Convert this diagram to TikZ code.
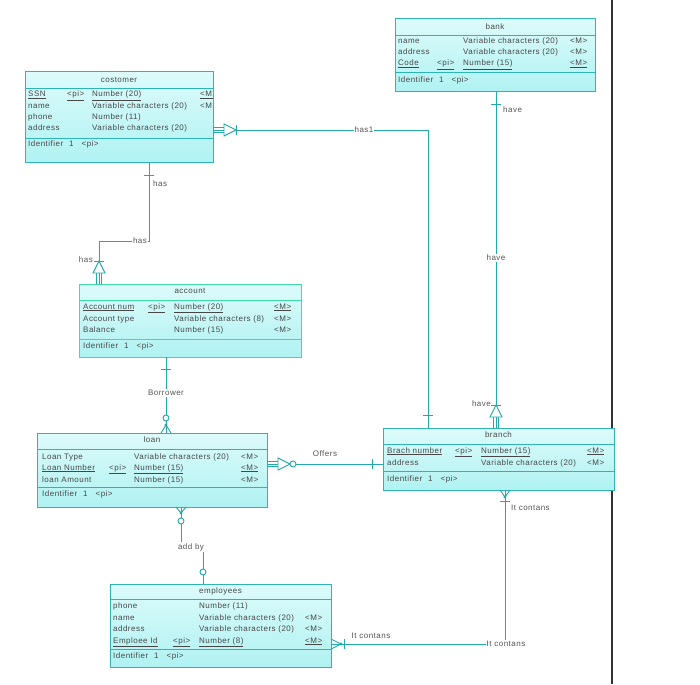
\documentclass[tikz,border=0pt]{standalone}
\usepackage{fontspec}
\setmainfont{Liberation Sans}[LetterSpace=6]
\usetikzlibrary{calc}

\definecolor{edge}{HTML}{30B3B3}
\definecolor{acctedge}{HTML}{3FDDA5}
\definecolor{link}{HTML}{22A9A9}
\definecolor{fillA}{HTML}{DDFBFB}
\definecolor{fillB}{HTML}{B0F2F2}
\definecolor{ink}{HTML}{474747}
\definecolor{lblink}{HTML}{555555}

\tikzset{
  entity/.style={draw=edge, line width=1pt, top color=fillA, bottom color=fillB,
    anchor=north west, inner sep=0pt, outer sep=0pt},
  sepline/.style={draw=edge, line width=1pt},
  attr/.style={anchor=west, inner sep=0pt, text=ink, text height=6pt, text depth=2pt,
    font=\fontsize{8}{9}\selectfont},
  ttl/.style={anchor=center, inner sep=0pt, text=ink, font=\fontsize{8}{9}\selectfont},
  conn/.style={draw=link, line width=0.9pt},
  lbl/.style={inner sep=1pt, text=lblink, font=\fontsize{8}{9}\selectfont},
  % end symbols, drawn along the local x axis, pointing away from the entity
  pics/inh/.style={code={
     \draw[conn] (0,-2.3)--(11,-2.3) (0,2.3)--(11,2.3);
     \draw[conn, fill=white] (11,-6)--(11,6)--(23,0)--cycle;}},
  pics/bar/.style={code={\draw[conn] (#1,-5)--(#1,5);}},
  pics/crow/.style={code={\draw[conn] (0,-5)--(#1,0)--(0,5); \fill[link] (#1,0) circle (1.7);}},
  pics/ring/.style={code={\draw[conn, fill=white] (#1,0) circle (3);}},
}

% column positions of the current table
\newcommand\colsat[4]{\def\colA{#1}\def\colB{#2}\def\colC{#3}\def\colD{#4}}
% plain attribute row: id, y, name, key, type, mandatory
\newcommand\erow[6]{%
  \node[attr] (#1-a) at (\colA,#2) {#3};
  \if\relax\detokenize{#4}\relax\else\node[attr] (#1-b) at (\colB,#2) {#4};\fi
  \node[attr] (#1-c) at (\colC,#2) {#5};
  \if\relax\detokenize{#6}\relax\else\node[attr] (#1-d) at (\colD,#2) {#6};\fi}
% primary identifier row (underlined)
\newcommand\krow[6]{%
  \node[attr] (#1-a) at (\colA,#2) {\underline{#3}};
  \node[attr] (#1-b) at (\colB,#2) {\underline{#4}};
  \node[attr] (#1-c) at (\colC,#2) {\underline{#5}};
  \node[attr] (#1-d) at (\colD,#2) {\underline{#6}};}
\newcommand\identrow[3]{\node[attr] (#1) at (#2,#3) {Identifier\hspace{6pt}1\hspace{8pt}<pi>};}

\begin{document}
\begin{tikzpicture}[x=1pt, y=-1pt]
\useasboundingbox (0,0) rectangle (700,684);
\fill[white] (0,0) rectangle (700,684);

% page edge
\draw[black!80, line width=1.3pt] (612,0) -- (612,684);

% ---------- costomer ----------
\node[entity, minimum width=188, minimum height=91] (cust) at (25,72) {};
\draw[sepline] (cust.west |- 0,89) -- (cust.east |- 0,89);
\draw[sepline] (cust.west |- 0,139) -- (cust.east |- 0,139);
\begin{scope}
\clip (cust.north west) rectangle (cust.south east);
\node[ttl] (cust-t) at (cust.north |- 0,80) {costomer};
\colsat{28}{67}{92}{200}
\krow{cust-r1}{95}{SSN}{<pi>}{Number (20)}{<M>}
\erow{cust-r2}{107}{name}{}{Variable characters (20)}{<M>}
\erow{cust-r3}{118}{phone}{}{Number (11)}{}
\erow{cust-r4}{129}{address}{}{Variable characters (20)}{}
\identrow{cust-id}{28}{145}
\end{scope}
\draw[edge, line width=1pt] (cust.north east) -- (cust.south east);

% ---------- bank ----------
\node[entity, minimum width=200, minimum height=73] (bank) at (395,19) {};
\draw[sepline] (bank.west |- 0,36) -- (bank.east |- 0,36);
\draw[sepline] (bank.west |- 0,73) -- (bank.east |- 0,73);
\node[ttl] (bank-t) at (bank.north |- 0,27) {bank};
\colsat{398}{437}{463}{570}
\erow{bank-r1}{42}{name}{}{Variable characters (20)}{<M>}
\erow{bank-r2}{53}{address}{}{Variable characters (20)}{<M>}
\krow{bank-r3}{64}{Code}{<pi>}{Number (15)}{<M>}
\identrow{bank-id}{398}{81}

% ---------- account ----------
\node[entity, draw=acctedge, minimum width=222, minimum height=73] (acct) at (79,284) {};
\draw[sepline, draw=acctedge] (acct.west |- 0,300) -- (acct.east |- 0,300);
\draw[sepline, draw=acctedge] (acct.west |- 0,339) -- (acct.east |- 0,339);
\node[ttl] (acct-t) at (acct.north |- 0,291) {account};
\colsat{83}{148}{174}{274}
\krow{acct-r1}{307}{Account num}{<pi>}{Number (20)}{<M>}
\erow{acct-r2}{319}{Account type}{}{Variable characters (8)}{<M>}
\erow{acct-r3}{330}{Balance}{}{Number (15)}{<M>}
\identrow{acct-id}{83}{346}

% ---------- loan ----------
\node[entity, minimum width=230, minimum height=74] (loan) at (37,433) {};
\draw[sepline] (loan.west |- 0,449) -- (loan.east |- 0,449);
\draw[sepline] (loan.west |- 0,487) -- (loan.east |- 0,487);
\node[ttl] (loan-t) at (loan.north |- 0,440) {loan};
\colsat{42}{109}{134}{241}
\erow{loan-r1}{457}{Loan Type}{}{Variable characters (20)}{<M>}
\krow{loan-r2}{468}{Loan Number}{<pi>}{Number (15)}{<M>}
\erow{loan-r3}{480}{loan Amount}{}{Number (15)}{<M>}
\identrow{loan-id}{42}{494}

% ---------- branch ----------
\node[entity, minimum width=231, minimum height=62] (branch) at (383,428) {};
\draw[sepline] (branch.west |- 0,444) -- (branch.east |- 0,444);
\draw[sepline] (branch.west |- 0,471) -- (branch.east |- 0,471);
\node[ttl] (branch-t) at (branch.north |- 0,435) {branch};
\colsat{387}{455}{481}{587}
\krow{branch-r1}{451}{Brach number}{<pi>}{Number (15)}{<M>}
\erow{branch-r2}{463}{address}{}{Variable characters (20)}{<M>}
\identrow{branch-id}{387}{479}

% ---------- employees ----------
\node[entity, minimum width=221, minimum height=83] (emp) at (110,584) {};
\draw[sepline] (emp.west |- 0,599) -- (emp.east |- 0,599);
\draw[sepline] (emp.west |- 0,649) -- (emp.east |- 0,649);
\node[ttl] (emp-t) at (emp.north |- 0,591) {employees};
\colsat{113}{173}{199}{305}
\erow{emp-r1}{606}{phone}{}{Number (11)}{}
\erow{emp-r2}{618}{name}{}{Variable characters (20)}{<M>}
\erow{emp-r3}{629}{address}{}{Variable characters (20)}{<M>}
\krow{emp-r4}{641}{Emploee Id}{<pi>}{Number (8)}{<M>}
\identrow{emp-id}{113}{656}

% ---------- relationships ----------
% costomer -- branch : has1
\draw[conn] (cust.east |- 0,130) -| (branch.north -| 428,0);
\pic at (cust.east |- 0,130) {inh};
\pic at (cust.east |- 0,130) {bar=23};
\pic[rotate=90] at (branch.north -| 428,0) {bar=13};
\node[lbl, fill=white] (l-has1) at (364,130) {has1};

% costomer -- account : has
\draw[conn] (cust.south -| 149,0) |- (99,241) -- (acct.north -| 99,0);
\pic[rotate=-90] at (cust.south -| 149,0) {bar=12};
\pic[rotate=90] at (acct.north -| 99,0) {inh};
\pic[rotate=90] at (acct.north -| 99,0) {bar=23};
\node[lbl, fill=white] (l-has-mid) at (140,241) {has};
\node[lbl, anchor=west] (l-has-c) at (152,184) {has};
\node[lbl, anchor=east] (l-has-a) at (94,260) {has};

% bank -- branch : have
\draw[conn] (bank.south -| 496,0) -- (branch.north -| 496,0);
\pic[rotate=-90] at (bank.south -| 496,0) {bar=12};
\pic[rotate=90] at (branch.north -| 496,0) {inh};
\pic[rotate=90] at (branch.north -| 496,0) {bar=23};
\node[lbl, fill=white] (l-have-mid) at (496,258) {have};
\node[lbl, anchor=west] (l-have-b) at (502,110) {have};
\node[lbl, anchor=east] (l-have-r) at (492,404) {have};

% account -- loan : Borrower
\draw[conn] (acct.south -| 166,0) -- (loan.north -| 166,0);
\pic[rotate=-90] at (acct.south -| 166,0) {bar=12};
\pic[rotate=90] at (loan.north -| 166,0) {crow=8};
\pic[rotate=90] at (loan.north -| 166,0) {ring=15};
\node[lbl, fill=white] (l-borrow) at (166,393) {Borrower};

% loan -- branch : Offers
\draw[conn] (loan.east |- 0,464) -- (branch.west |- 0,464);
\pic at (loan.east |- 0,464) {inh};
\pic at (loan.east |- 0,464) {ring=26};
\pic[rotate=180] at (branch.west |- 0,464) {bar=11};
\node[lbl] (l-offers) at (325,454) {Offers};

% loan -- employees : add by
\draw[conn] (loan.south -| 181,0) |- (203,547) -- (emp.north -| 203,0);
\pic[rotate=-90] at (loan.south -| 181,0) {crow=6};
\pic[rotate=-90] at (loan.south -| 181,0) {ring=14};
\pic[rotate=90] at (emp.north -| 203,0) {ring=12};
\node[lbl, fill=white] (l-addby) at (191,547) {add by};

% branch -- employees : It contans
\draw[conn] (branch.south -| 505,0) |- (emp.east |- 0,644);
\pic[rotate=-90] at (branch.south -| 505,0) {crow=7};
\pic[rotate=-90] at (branch.south -| 505,0) {bar=11};
\pic at (emp.east |- 0,644) {crow=10};
\pic at (emp.east |- 0,644) {bar=13};
\node[lbl, fill=white] (l-cont-mid) at (506,644) {It contans};
\node[lbl, anchor=west] (l-cont-b) at (510,508) {It contans};
\node[lbl] (l-cont-e) at (371,636) {It contans};
\end{tikzpicture}
\end{document}
